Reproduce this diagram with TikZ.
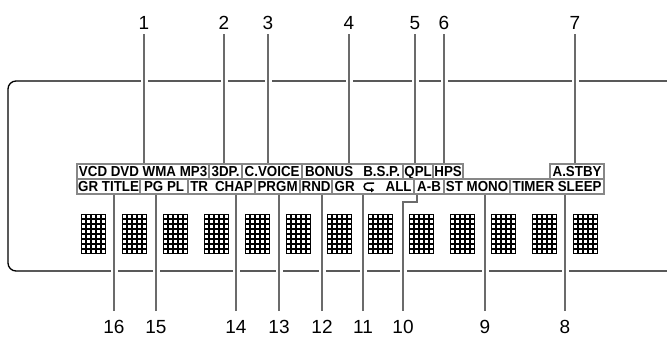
\documentclass[tikz,border=0pt]{standalone}
\usepackage{fontspec}
\setmainfont{Liberation Sans}
\newfontfamily\segfont[FakeStretch=0.92]{Liberation Sans}
\usetikzlibrary{arrows.meta, positioning, calc}

\begin{document}
\begin{tikzpicture}[
    x=1pt, y=-1pt,
    % Node styles
    seg/.style={
        rectangle, anchor=north west,
        minimum width=#1, minimum height=15pt, inner sep=0pt,
        draw=black!47, line width=2.2pt, fill=white,
        font=\segfont\bfseries\fontsize{14.5}{14.5}\selectfont,
        text height=10.4pt, text depth=0pt,
    },
    callout/.style={
        font=\fontsize{19}{19}\selectfont,
        text height=13.6pt, text depth=0pt, inner sep=0pt,
    },
    top callout/.style={callout, anchor=south, outer ysep=5pt},
    bottom callout/.style={callout, anchor=north, outer ysep=9pt},
    leader/.style={
        draw=black!58, line width=1.6pt,
        preaction={draw=white, line width=7pt},
    },
    frame/.style={draw=black, line width=1.3pt, rounded corners=8pt},
    dot/.style={draw=black, line width=0.7pt},
    repeat icon/.style={
        draw=black, line width=1.5pt, -{Triangle[length=3pt, width=4.5pt]},
    },
]
\useasboundingbox (0,0) rectangle (667,343);

% === Display outline ===
\draw[frame] (667,81) -- (8,81) -- (8,271) -- (667,271);

% === Character grids ===
\foreach \g in {0,...,12}
  \foreach \c in {0,...,4}
    \foreach \r in {0,...,7}
      \draw[dot] ({81+41*\g+5*\c+0.5},{214+5*\r+0.5}) rectangle ++(4,4);

% === Indicator row: top ===
\node[seg=132pt] (vcd)    at (76,163)  {VCD DVD WMA MP3};
\node[seg=33pt]  (tdp)    at (208,163) {3DP.};
\node[seg=60pt]  (cvoice) at (241,163) {C.VOICE};
\node[seg=101pt] (bonus)  at (301,163) {BONUS\hspace{10pt}B.S.P.};
\node[seg=30pt]  (qpl)    at (402,163) {QPL};
\node[seg=30pt]  (hps)    at (432,163) {HPS};
\node[seg=54pt]  (astby)  at (549,163) {A.STBY};

% === Indicator row: bottom ===
\node[seg=63pt] (grtitle) at (76,178)  {GR TITLE};
\node[seg=48pt] (pgpl)    at (139,178) {PG PL};
\node[seg=67pt] (trchap)  at (187,178) {TR\hspace{7pt}CHAP};
\node[seg=45pt] (prgm)    at (254,178) {PRGM};
\node[seg=32pt] (rnd)     at (299,178) {RND};
\node[seg=82pt] (grall)   at (331,178) {GR\hspace{31pt}ALL};
\node[seg=30pt] (ab)      at (413,178) {A-B};
\node[seg=66pt] (stmono)  at (443,178) {ST MONO};
\node[seg=94pt] (timer)   at (509,178) {TIMER SLEEP};

% repeat symbol inside the GR ... ALL box
\draw[repeat icon] ($(grall.center)+(1,-3.5)$) -- ++(-6.5,0)
    arc[start angle=270, end angle=90, radius=3.5] -- ++(6.5,0);

% === Callout numbers ===
\node[top callout] (l1) at (144,34) {1};
\node[top callout] (l2) at (224,34) {2};
\node[top callout] (l3) at (268,34) {3};
\node[top callout] (l4) at (349,34) {4};
\node[top callout] (l5) at (415,34) {5};
\node[top callout] (l6) at (444,34) {6};
\node[top callout] (l7) at (575,34) {7};

\node[bottom callout] (l16) at (114,311) {16};
\node[bottom callout] (l15) at (156,311) {15};
\node[bottom callout] (l14) at (236,311) {14};
\node[bottom callout] (l13) at (279,311) {13};
\node[bottom callout] (l12) at (322,311) {12};
\node[bottom callout] (l11) at (363,311) {11};
\node[bottom callout] (l10) at (403,311) {10};
\node[bottom callout] (l9)  at (485,311) {9};
\node[bottom callout] (l8)  at (565,311) {8};

% === Leaders: top ===
\draw[leader] (l1.south) -- (l1.south |- vcd.north);
\draw[leader] (l2.south) -- (l2.south |- tdp.north);
\draw[leader] (l3.south) -- (l3.south |- cvoice.north);
\draw[leader] (l4.south) -- (l4.south |- bonus.north);
\draw[leader] (l5.south) -- (l5.south |- qpl.north);
\draw[leader] (l6.south) -- (l6.south |- hps.north);
\draw[leader] (l7.south) -- (l7.south |- astby.north);

% === Leaders: bottom ===
\draw[leader] (l16.north) -- (l16.north |- grtitle.south);
\draw[leader] (l15.north) -- (l15.north |- pgpl.south);
\draw[leader] (l14.north) -- (l14.north |- trchap.south);
\draw[leader] (l13.north) -- (l13.north |- prgm.south);
\draw[leader] (l12.north) -- (l12.north |- rnd.south);
\draw[leader] (l11.north) -- (l11.north |- grall.south);
\coordinate (abtap) at ([xshift=4pt]ab.south west);
\draw[leader] (abtap) -- ++(0,7) -| (l10.north);
\draw[leader] (l9.north) -- (l9.north |- stmono.south);
\draw[leader] (l8.north) -- (l8.north |- timer.south);

\end{tikzpicture}
\end{document}
